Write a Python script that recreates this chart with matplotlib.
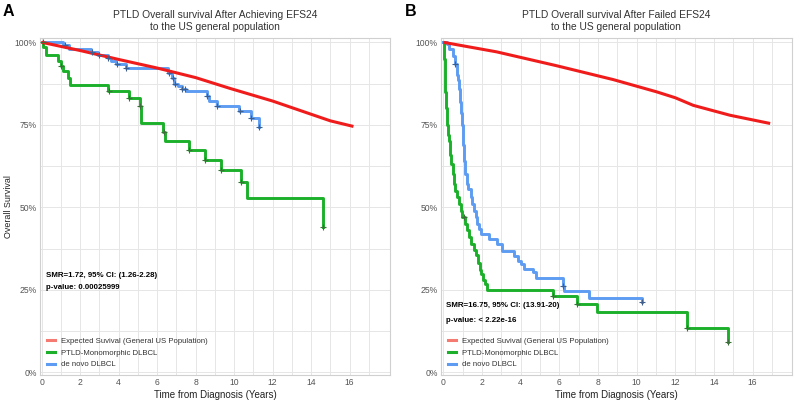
import numpy as np
import matplotlib
matplotlib.use("Agg")
import matplotlib.pyplot as plt
from matplotlib.lines import Line2D

plt.rcParams['font.family'] = ['Liberation Sans', 'DejaVu Sans']

# ---------------- Panel A data ----------------
a_exp_t = [0, 2, 4, 6, 8, 9.8, 12, 14, 15, 16.2]
a_exp_s = [100, 97.5, 94.8, 92.2, 89.3, 86.0, 82.2, 78.2, 76.2, 74.5]

a_ptld_t = [0.08, 0.22, 0.83, 1.0, 1.09, 1.35, 1.49, 3.46, 4.55, 5.1, 5.15, 6.32, 6.42,
            7.65, 8.5, 9.3, 10.34, 10.68, 14.63]
a_ptld_s = [98.6, 96.3, 94.3, 92.8, 91.3, 89.2, 87.2, 85.2, 83.0, 80.6, 75.5, 72.8, 70.1,
            67.5, 64.4, 61.2, 57.8, 52.7, 44.1]
a_ptld_cens = [0.05, 1.0, 3.5, 4.55, 5.12, 6.35, 7.65, 8.5, 9.3, 10.35, 14.63]

a_dn_t = [1.09, 1.44, 2.56, 2.9, 3.43, 3.6, 3.86, 4.38, 6.58, 6.75, 6.9, 7.1, 7.3, 7.5,
          8.57, 8.7, 9.1, 10.27, 10.85, 11.3]
a_dn_s = [99.1, 98.1, 97.0, 96.3, 95.3, 94.3, 93.3, 92.2, 90.7, 89.3, 87.5, 86.7, 86.0, 85.1,
          83.6, 82.3, 80.7, 79.1, 77.2, 74.4]
a_dn_cens = [1.2, 2.6, 3.0, 3.45, 3.9, 4.4, 6.6, 6.8, 6.95, 7.3, 7.45, 8.6, 9.1, 10.3, 10.9, 11.3]

# ---------------- Panel B data ----------------
b_exp_t = [0, 2.76, 5.86, 8.79, 11.03, 12.0, 12.93, 14.83, 16.91]
b_exp_s = [100, 97.1, 92.9, 88.7, 85.0, 83.2, 80.9, 77.9, 75.4]

b_ptld_t = [0.02, 0.05, 0.08, 0.1, 0.13, 0.17, 0.22, 0.28, 0.33, 0.4, 0.48, 0.55, 0.62, 0.7,
            0.8, 0.9, 0.99, 1.1, 1.2, 1.33, 1.45, 1.58, 1.68, 1.78, 1.88, 1.94, 2.05, 2.15,
            2.27, 5.69, 6.9, 7.93, 12.59, 14.74]
b_ptld_s = [98.5, 95, 90, 85, 80, 75, 72, 70, 66, 63, 60, 57, 55, 53,
            51, 49, 47, 45, 43, 41, 39, 37, 35.5, 33, 31, 29.7, 28, 26.8,
            25.0, 23.2, 20.6, 18.3, 13.5, 9.3]
b_ptld_cens = [1.08, 5.69, 6.9, 12.59, 14.74]

b_dn_t = [0.17, 0.31, 0.49, 0.6, 0.69, 0.74, 0.8, 0.86, 0.91, 0.96, 1.0, 1.04, 1.08, 1.12,
          1.2, 1.3, 1.42, 1.5, 1.59, 1.68, 1.76, 1.85, 1.93, 2.36, 2.8, 3.06, 3.67, 3.84,
          4.0, 4.18, 4.62, 4.79, 6.2, 6.25, 7.52, 10.26]
b_dn_s = [99.5, 97.9, 95.8, 93.5, 90, 88.5, 86, 82, 78.5, 75, 72.5, 69, 64, 60,
          57.1, 55.5, 53.0, 51, 49.0, 47, 45.0, 43.5, 41.9, 40.4, 38.8, 36.8, 35.3, 33.8,
          32.8, 31.3, 30.3, 28.7, 26.2, 24.5, 22.6, 21.4]
b_dn_cens = [0.62, 6.2, 10.26]

legend_labels = ["Expected Suvival (General US Population)", "PTLD-Monomorphic DLBCL", "de novo DLBCL"]
x_ticks = [0, 2, 4, 6, 8, 10, 12, 14, 16]
y_ticks = [0, 25, 50, 75, 100]
y_tick_labels = ["0%", "25%", "50%", "75%", "100%"]

RED = '#f01c1c'
GREEN = '#1cb02a'
BLUE = '#5d9cf2'
LEG_COLORS = ['#f57a72', GREEN, BLUE]

W, H = 800, 401
fig = plt.figure(figsize=(W / 100, H / 100), dpi=100)


def frac_box(l, r, t, b):
    return [l / W, 1 - b / H, (r - l) / W, (b - t) / H]


def km(times, survs):
    x = [0] + list(times)
    y = [100] + list(survs)
    return np.array(x), np.array(y)


def surv_at(times, survs, t):
    x, y = km(times, survs)
    idx = np.searchsorted(x, t, side='right') - 1
    return y[idx]


def draw_panel(ax, exp_t, exp_s, p_t, p_s, p_c, d_t, d_s, d_c, xlim, ylabel):
    ax.set_xlim(*xlim)
    ax.set_ylim(-0.8, 101.3)
    ax.set_xticks(x_ticks)
    ax.set_xticks(np.arange(1, 18.5, 2), minor=True)
    ax.set_yticks(y_ticks)
    ax.set_yticks([12.5, 37.5, 62.5, 87.5], minor=True)
    ax.set_yticklabels(y_tick_labels)
    ax.grid(True, which='both', color='#e6e6e6', lw=0.7)
    ax.set_axisbelow(True)
    for s in ax.spines.values():
        s.set_color('#d0d0d0')
        s.set_linewidth(0.8)
    ax.tick_params(which='both', length=0, labelsize=6.2, colors='#555555', pad=2.5)
    ax.tick_params(which='minor', length=0)

    ax.plot(exp_t, exp_s, color=RED, lw=2.2, solid_capstyle='butt', zorder=4)
    x, y = km(p_t, p_s)
    ax.plot(x, y, drawstyle='steps-post', color=GREEN, lw=2.1, zorder=3)
    x, y = km(d_t, d_s)
    ax.plot(x, y, drawstyle='steps-post', color=BLUE, lw=2.1, zorder=3)
    ax.plot(p_c, [surv_at(p_t, p_s, t) for t in p_c], ls='none', marker='+',
            ms=4, mew=0.8, color='#3a6f3a', zorder=5)
    ax.plot(d_c, [surv_at(d_t, d_s, t) for t in d_c], ls='none', marker='+',
            ms=4, mew=0.8, color='#3f5f8f', zorder=5)

    ax.set_xlabel("Time from Diagnosis (Years)", fontsize=7.0, color='#222222', labelpad=1.5)
    if ylabel:
        ax.set_ylabel("Overall Survival", fontsize=6.4, color='#222222')
        ax.yaxis.set_label_coords(-0.078, 0.5)

    handles = [Line2D([0], [0], color=c, lw=2.2) for c in LEG_COLORS]
    leg = ax.legend(handles, legend_labels, loc='lower left', bbox_to_anchor=(0.0, 0.0),
                    frameon=False, fontsize=5.6, handlelength=1.1, handletextpad=0.7,
                    labelspacing=0.55, borderaxespad=0.45)
    for t in leg.get_texts():
        t.set_color('#333333')


axA = fig.add_axes(frac_box(40, 390, 38, 375))
draw_panel(axA, a_exp_t, a_exp_s, a_ptld_t, a_ptld_s, a_ptld_cens,
           a_dn_t, a_dn_s, a_dn_cens, (-0.09, 18.1), True)
axA.text(0.22, 29.2, "SMR=1.72, 95% CI: (1.26-2.28)", fontsize=5.7, fontweight='bold',
         va='center', ha='left', color='black')
axA.text(0.22, 25.7, "p-value: 0.00025999", fontsize=5.7, fontweight='bold',
         va='center', ha='left', color='black')

axB = fig.add_axes(frac_box(441, 792, 38, 375))
draw_panel(axB, b_exp_t, b_exp_s, b_ptld_t, b_ptld_s, b_ptld_cens,
           b_dn_t, b_dn_s, b_dn_cens, (-0.12, 18.04), False)
axB.text(0.15, 20.2, "SMR=16.75, 95% CI: (13.91-20)", fontsize=5.7, fontweight='bold',
         va='center', ha='left', color='black')
axB.text(0.15, 15.8, "p-value: < 2.22e-16", fontsize=5.7, fontweight='bold',
         va='center', ha='left', color='black')

# titles
fig.text(215 / W, 1 - 15.5 / H, "PTLD Overall survival After Achieving EFS24", ha='center',
         va='center', fontsize=7.4, color='#333333')
fig.text(215 / W, 1 - 27.5 / H, "to the US general population", ha='center',
         va='center', fontsize=7.4, color='#333333')
fig.text(616 / W, 1 - 15.5 / H, "PTLD Overall survival After Failed EFS24", ha='center',
         va='center', fontsize=7.4, color='#333333')
fig.text(616 / W, 1 - 27.5 / H, "to the US general population", ha='center',
         va='center', fontsize=7.4, color='#333333')

fig.text(3 / W, 1 - 11 / H, "A", ha='left', va='center', fontsize=11.5, fontweight='bold')
fig.text(405 / W, 1 - 11 / H, "B", ha='left', va='center', fontsize=11.5, fontweight='bold')

fig.savefig("out.png", dpi=100)
